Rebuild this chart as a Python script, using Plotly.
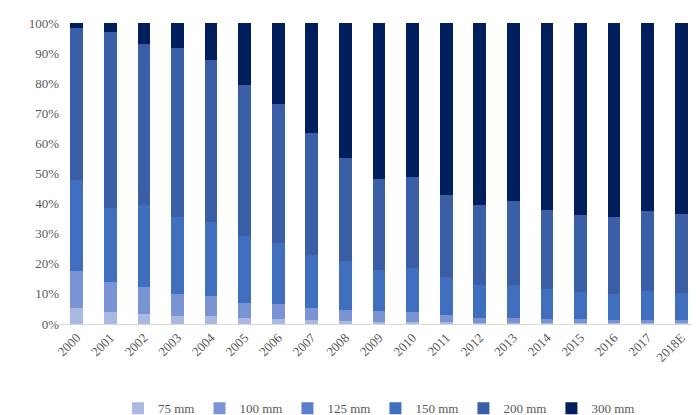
import plotly.graph_objects as go

YEARS = ["2000", "2001", "2002", "2003", "2004", "2005", "2006", "2007", "2008", "2009",
         "2010", "2011", "2012", "2013", "2014", "2015", "2016", "2017", "2018E"]

MM75 = [5.3, 4, 3.3, 2.7, 2.5, 2, 1.5, 1.3, 1, 0.8, 0.8, 0.6, 0.5, 0.5, 0.4, 0.3, 0.3, 0.3, 0.2]
MM100 = [12.4, 10, 9, 7.3, 6.8, 5, 5.2, 4, 3.7, 3.5, 3.2, 2.4, 1.5, 1.5, 1.4, 1.2, 1, 1, 1]
MM125 = [0] * 19
MM150 = [30, 24.7, 27.4, 25.7, 24.7, 22.3, 20.3, 17.7, 16.3, 13.7, 14.7, 12.7, 11, 11, 9.9, 9.2, 8.7, 9.7, 9.1]
MM200 = [50.6, 58.3, 53.3, 56, 53.7, 50, 46, 40.3, 34, 30.3, 30.3, 27, 26.7, 27.7, 26.3, 25.6, 25.7, 26.7, 26.4]
MM300 = [1.7, 3, 7, 8.3, 12.3, 20.7, 27, 36.7, 45, 51.7, 51, 57.3, 60.3, 59.3, 62, 63.7, 64.3, 62.3, 63.3]

SERIES = [
    ("75 mm", MM75, "#a9b9e2"),
    ("100 mm", MM100, "#7a93d2"),
    ("125 mm", MM125, "#5a7fcc"),
    ("150 mm", MM150, "#416fc0"),
    ("200 mm", MM200, "#3a5fa6"),
    ("300 mm", MM300, "#001f5c"),
]

fig = go.Figure()
for name, vals, color in SERIES:
    fig.add_trace(go.Bar(x=YEARS, y=vals, name=name, marker=dict(color=color, line_width=0)))

fig.update_layout(
    barmode="stack",
    barnorm="percent",
    bargap=0.62,
    width=700,
    height=415,
    plot_bgcolor="white",
    paper_bgcolor="white",
    font=dict(family="Liberation Serif", size=13, color="#595959"),
    margin=dict(l=52, r=10, t=15, b=99, autoexpand=False),
    showlegend=True,
    legend=dict(orientation="h", x=0.5, xanchor="center", y=-0.23, yanchor="top",
                font=dict(size=13), traceorder="normal"),
)
fig.update_yaxes(range=[0, 100], dtick=10, ticksuffix="%", showgrid=False,
                 showline=False, zeroline=False, automargin=False)
fig.update_xaxes(tickangle=-45, showline=True, linecolor="#d9d9d9", linewidth=1,
                 automargin=False)

fig.write_html("out.html")
